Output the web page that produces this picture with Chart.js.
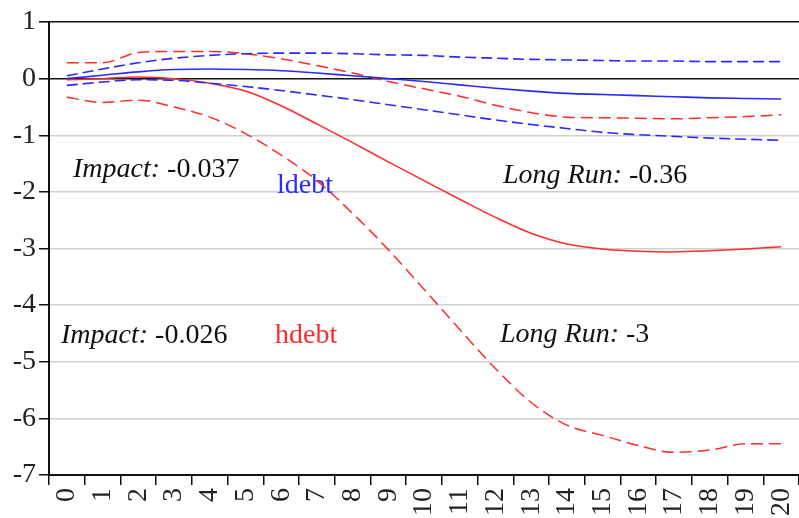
<!DOCTYPE html>
<html>
<head>
<meta charset="utf-8">
<script src="https://cdn.jsdelivr.net/npm/chart.js@4/dist/chart.umd.min.js"></script>
<style>
html,body{margin:0;padding:0;background:#fff;}
#wrap{width:799px;height:518px;position:relative;}
</style>
</head>
<body>
<div id="wrap"><canvas id="c" width="799" height="518"></canvas></div>
<script>
const categories = ['0','1','2','3','4','5','6','7','8','9','10','11','12','13','14','15','16','17','18','19','20'];
const yTicks = [1, 0, -1, -2, -3, -4, -5, -6, -7];
const ldebtMid   = [0.00, 0.06, 0.12, 0.16, 0.17, 0.16, 0.14, 0.10, 0.05, 0.00, -0.05, -0.11, -0.17, -0.22, -0.26, -0.28, -0.30, -0.32, -0.34, -0.35, -0.36];
const ldebtUpper = [0.05, 0.17, 0.28, 0.36, 0.41, 0.44, 0.45, 0.45, 0.44, 0.42, 0.41, 0.38, 0.36, 0.34, 0.33, 0.32, 0.31, 0.31, 0.30, 0.30, 0.30];
const ldebtLower = [-0.12, -0.06, -0.02, -0.03, -0.08, -0.14, -0.21, -0.29, -0.37, -0.46, -0.55, -0.64, -0.73, -0.81, -0.88, -0.95, -0.99, -1.02, -1.05, -1.07, -1.09];
const hdebtMid   = [-0.02, 0.00, 0.03, 0.00, -0.08, -0.22, -0.48, -0.80, -1.13, -1.47, -1.80, -2.13, -2.45, -2.73, -2.92, -3.01, -3.05, -3.06, -3.04, -3.01, -2.97];
const hdebtUpper = [0.28, 0.28, 0.46, 0.48, 0.48, 0.44, 0.35, 0.23, 0.10, -0.05, -0.18, -0.31, -0.47, -0.60, -0.68, -0.69, -0.70, -0.71, -0.69, -0.67, -0.64];
const hdebtLower = [-0.33, -0.42, -0.38, -0.50, -0.68, -0.97, -1.35, -1.80, -2.38, -3.02, -3.72, -4.43, -5.12, -5.72, -6.12, -6.30, -6.48, -6.60, -6.56, -6.45, -6.45];

const BLUE = '#2a2aff';
const RED = '#ff2a2a';
const SERIF = '"Liberation Serif", "Times New Roman", serif';

const annotations = {
  id: 'annotations',
  beforeDatasetsDraw(chart) {
    const ctx = chart.ctx;
    ctx.save();
    ctx.textBaseline = 'alphabetic';
    ctx.textAlign = 'left';
    function labelPair(italicText, normalText, x, y) {
      ctx.fillStyle = '#111';
      ctx.font = 'italic 28px ' + SERIF;
      ctx.fillText(italicText, x, y);
      const w = ctx.measureText(italicText + ' ').width;
      ctx.font = '28px ' + SERIF;
      ctx.fillText(normalText, x + w, y);
    }
    labelPair('Impact:', '-0.037', 73, 177);
    labelPair('Long Run:', '-0.36', 503, 183);
    labelPair('Impact:', '-0.026', 61, 343);
    labelPair('Long Run:', '-3', 500, 342);
    ctx.font = '28px ' + SERIF;
    ctx.fillStyle = BLUE;
    ctx.fillText('ldebt', 277, 193);
    ctx.fillStyle = RED;
    ctx.fillText('hdebt', 275, 343);
    ctx.restore();
  }
};

function ds(data, color, dash, width) {
  return {
    data: data,
    borderColor: color,
    borderWidth: width,
    borderDash: dash,
    pointRadius: 0,
    fill: false,
    cubicInterpolationMode: 'monotone'
  };
}

new Chart(document.getElementById('c'), {
  type: 'line',
  data: {
    labels: categories,
    datasets: [
      ds(ldebtMid, BLUE, [], 1.6),
      ds(ldebtUpper, BLUE, [11, 5], 1.6),
      ds(ldebtLower, BLUE, [11, 5], 1.6),
      ds(hdebtMid, RED, [], 1.5),
      ds(hdebtUpper, RED, [12, 6], 1.5),
      ds(hdebtLower, RED, [12, 6], 1.5)
    ]
  },
  plugins: [annotations],
  options: {
    responsive: false,
    animation: false,
    devicePixelRatio: 1,
    layout: { padding: { top: 22, right: 0, left: 0, bottom: 0 } },
    plugins: { legend: { display: false }, tooltip: { enabled: false } },
    scales: {
      x: {
        type: 'category',
        offset: true,
        grid: {
          offset: true,
          drawOnChartArea: false,
          drawTicks: true,
          tickLength: 10,
          color: '#111',
          tickColor: '#111',
          lineWidth: 1.5
        },
        border: { display: true, color: '#111', width: 2 },
        ticks: {
          autoSkip: false,
          minRotation: 90,
          maxRotation: 90,
          padding: 3,
          color: '#222',
          font: { family: SERIF, size: 28 }
        },
        afterFit(scale) {
          scale.height = 43;
          scale.paddingLeft = 0;
          scale.paddingRight = 0;
        }
      },
      y: {
        min: -7,
        max: 1,
        afterBuildTicks(scale) {
          scale.ticks = yTicks.map(v => ({ value: v }));
        },
        grid: {
          color: ctx => (ctx.tick && (ctx.tick.value === 0 || ctx.tick.value === 1)) ? '#111' : '#d0d0d0',
          lineWidth: ctx => (ctx.tick && (ctx.tick.value === 0 || ctx.tick.value === 1)) ? 1.6 : 1.5,
          tickColor: '#111',
          tickLength: 10,
          drawTicks: true
        },
        border: { display: true, color: '#111', width: 2 },
        ticks: {
          padding: 3,
          color: '#222',
          font: { family: SERIF, size: 28 },
          callback: v => String(v)
        },
        afterFit(scale) {
          scale.width = 49;
          scale.paddingTop = 0;
          scale.paddingBottom = 0;
        }
      }
    }
  }
});
</script>
</body>
</html>
